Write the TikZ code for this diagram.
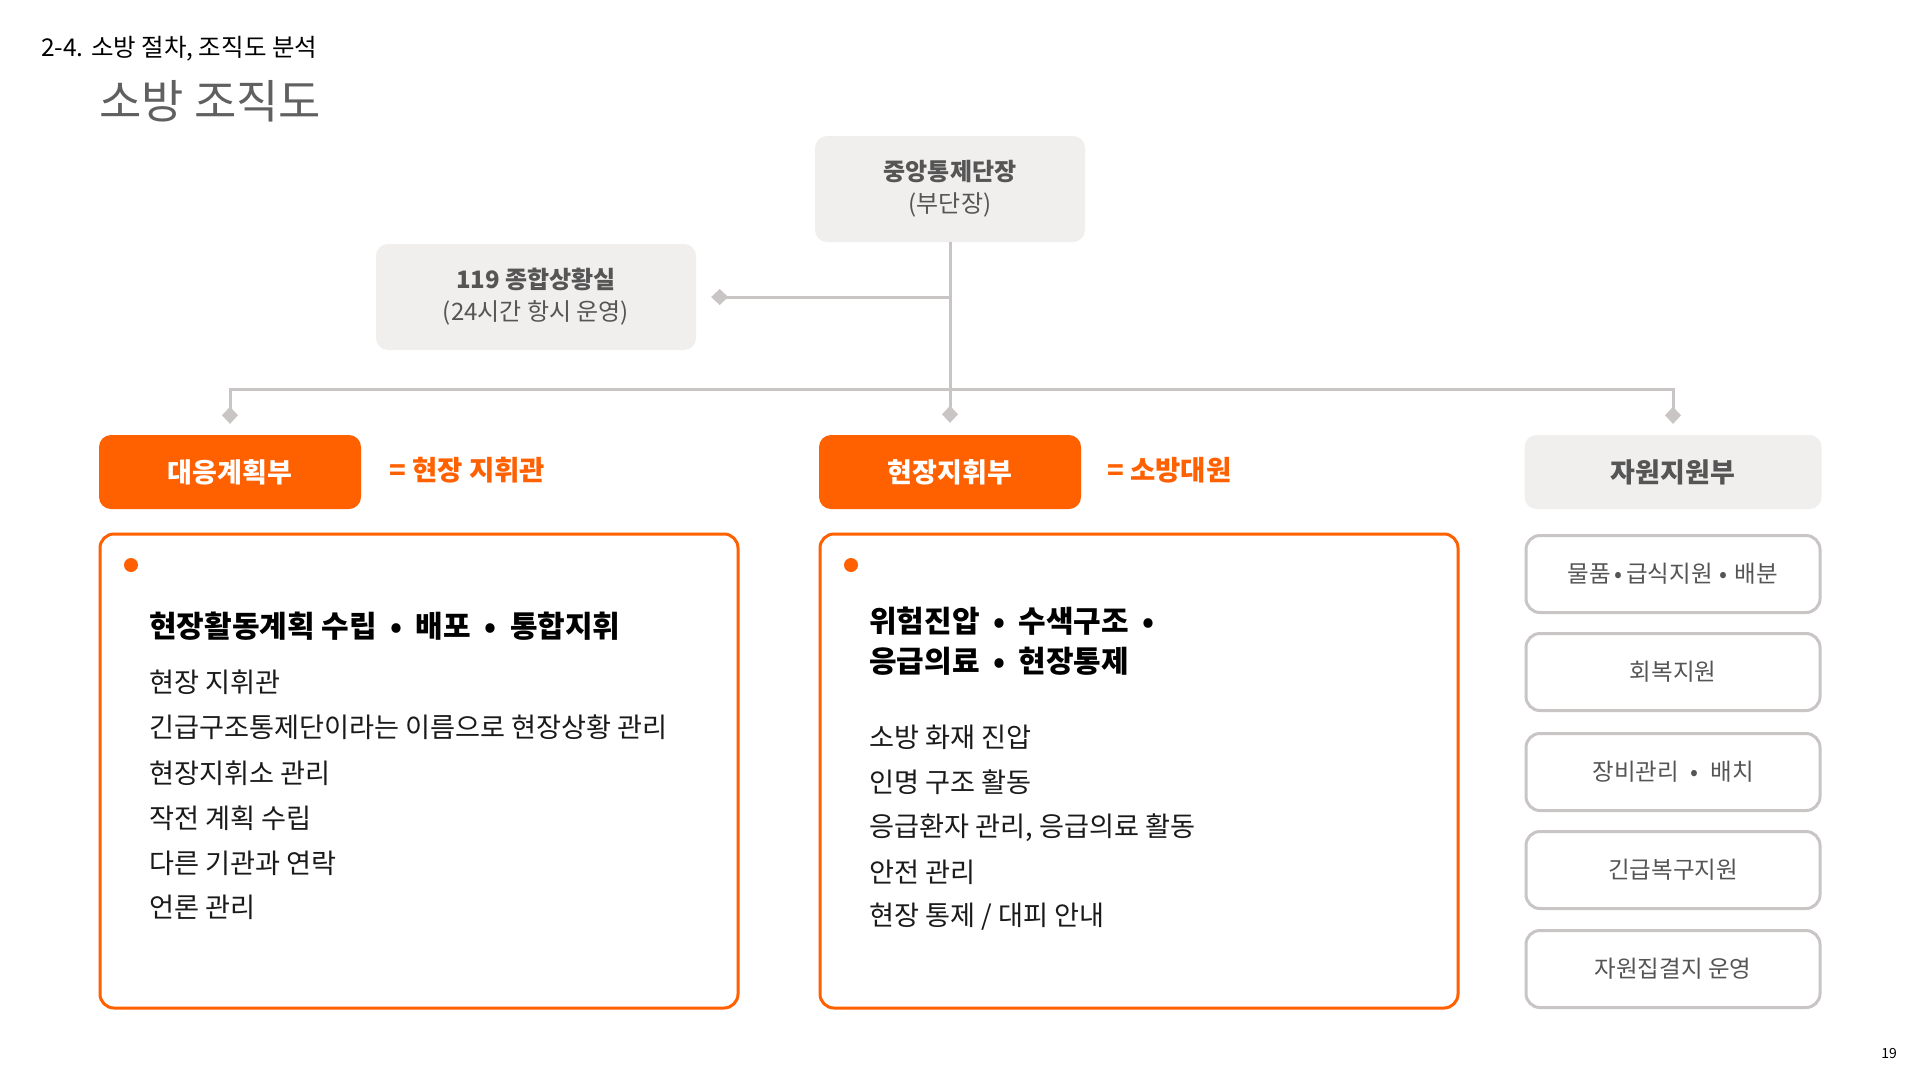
\documentclass[tikz,border=0pt]{standalone}
\usepackage{fontspec}
\setmainfont{Noto Sans CJK KR}
\usetikzlibrary{arrows.meta}
\definecolor{org}{HTML}{FF6000}
\definecolor{boxgray}{HTML}{F1EFEE}
\definecolor{linegray}{HTML}{C9C5C5}
\definecolor{txtgray}{HTML}{555555}
\definecolor{titlegray}{HTML}{606060}
\definecolor{bodytxt}{HTML}{1A1A1A}
\newcommand{\dotsep}{\hspace{0.3em}•\hspace{0.3em}}
\newcommand{\hdotsep}{\hspace{0.45em}•\hspace{0.45em}}
\begin{document}
\begin{tikzpicture}[x=1pt,y=-1pt,
  graybox/.style={fill=boxgray, rounded corners=12pt, text=txtgray, align=center, inner sep=0pt},
  orgbox/.style={fill=org, rounded corners=12pt, text=white, inner sep=0pt, minimum width=262pt, minimum height=74pt, font=\fontsize{27}{32}\selectfont\bfseries},
  bigbox/.style={draw=org, line width=3pt, rounded corners=14pt, inner sep=0pt, minimum width=638pt, minimum height=474pt},
  subbox/.style={draw=linegray, line width=3pt, rounded corners=14pt, fill=white, inner sep=0pt, minimum width=294pt, minimum height=77pt, text=txtgray, font=\fontsize{23.5}{28}\selectfont},
  conn/.style={draw=linegray, line width=3pt, -{Diamond[length=17pt,width=16pt]}},
  eqlbl/.style={text=org, anchor=west, inner sep=0pt, font=\fontsize{27.5}{32}\selectfont\bfseries},
  itemtxt/.style={anchor=west, inner sep=0pt, text=bodytxt, font=\fontsize{27.2}{32}\selectfont},
  headtxt/.style={anchor=west, inner sep=0pt, text=black, font=\fontsize{30}{36}\selectfont\bfseries},
  dot/.style={circle, fill=org, inner sep=0pt, minimum size=14pt}
]
\useasboundingbox (0,0) rectangle (1920,1080);
\fill[white] (0,0) rectangle (1920,1080);

% header
\node[anchor=west, inner sep=0pt, font=\fontsize{24.5}{28}\selectfont] (hdr) at (41,49) {2-4. 소방 절차, 조직도 분석};
\node[anchor=west, inner sep=0pt, text=titlegray, font=\fontsize{46}{52}\selectfont] (ttl) at (99,101) {소방 조직도};

% top boxes
\node[graybox, minimum width=270pt, minimum height=106pt, font=\fontsize{24}{32}\selectfont] (c) at (950,189) {\textbf{중앙통제단장}\\(부단장)};
\node[graybox, minimum width=320pt, minimum height=106pt, font=\fontsize{24}{32}\selectfont] (s) at (536,297) {\textbf{119 종합상황실}\\(24시간 항시 운영)};

% department boxes
\node[orgbox] (a) at (230,472) {대응계획부};
\node[orgbox] (b) at (950,472) {현장지휘부};
\node[graybox, minimum width=297pt, minimum height=74pt, font=\fontsize{27}{32}\selectfont\bfseries] (r) at (1673,472) {자원지원부};

\node[eqlbl] (ea) at (389,470) {= 현장 지휘관};
\node[eqlbl] (eb) at (1107,470) {= 소방대원};

% connectors
\coordinate (j1) at (c.south |- s.east);
\coordinate (j2) at (950,389);
\draw[conn, shorten >=12pt] (c.south) -- (b.north);
\draw[conn, shorten >=15pt] (j1) -- (s.east);
\draw[conn, shorten >=11pt] (j2) -| (a.north);
\draw[conn, shorten >=11pt] (j2) -| (r.north);

% big boxes
\node[bigbox] (bl) at (419,771) {};
\node[bigbox] (bm) at (1139,771) {};
\node[dot] (dl) at (131,565) {};
\node[dot] (dm) at (851,565) {};

\node[headtxt] (hl) at (149,626) {현장활동계획 수립\hdotsep 배포\hdotsep 통합지휘};
\node[itemtxt] (l1) at (149,682) {현장 지휘관};
\node[itemtxt] (l2) at (149,727) {긴급구조통제단이라는 이름으로 현장상황 관리};
\node[itemtxt] (l3) at (149,773) {현장지휘소 관리};
\node[itemtxt] (l4) at (149,818) {작전 계획 수립};
\node[itemtxt] (l5) at (149,863) {다른 기관과 연락};
\node[itemtxt] (l6) at (149,907) {언론 관리};

\node[headtxt] (hm1) at (869,621) {위험진압\hdotsep 수색구조\hdotsep};
\node[headtxt] (hm2) at (869,661) {응급의료\hdotsep 현장통제};
\node[itemtxt] (m1) at (869,737) {소방 화재 진압};
\node[itemtxt] (m2) at (869,782) {인명 구조 활동};
\node[itemtxt] (m3) at (869,828) {응급환자 관리, 응급의료 활동};
\node[itemtxt] (m4) at (869,872) {안전 관리};
\node[itemtxt] (m5) at (869,917) {현장 통제 / 대피 안내};

% resource sub boxes
\node[subbox] (r1) at (1673,574) {물품\hspace{0.15em}•\hspace{0.15em}급식지원\dotsep 배분};
\node[subbox] (r2) at (1673,672) {회복지원};
\node[subbox] (r3) at (1673,772) {장비관리\hspace{0.5em}•\hspace{0.5em}배치};
\node[subbox] (r4) at (1673,870) {긴급복구지원};
\node[subbox] (r5) at (1673,969) {자원집결지 운영};

\node[inner sep=0pt, font=\fontsize{14}{16}\selectfont] (pg) at (1889,1053) {19};
\end{tikzpicture}
\end{document}
